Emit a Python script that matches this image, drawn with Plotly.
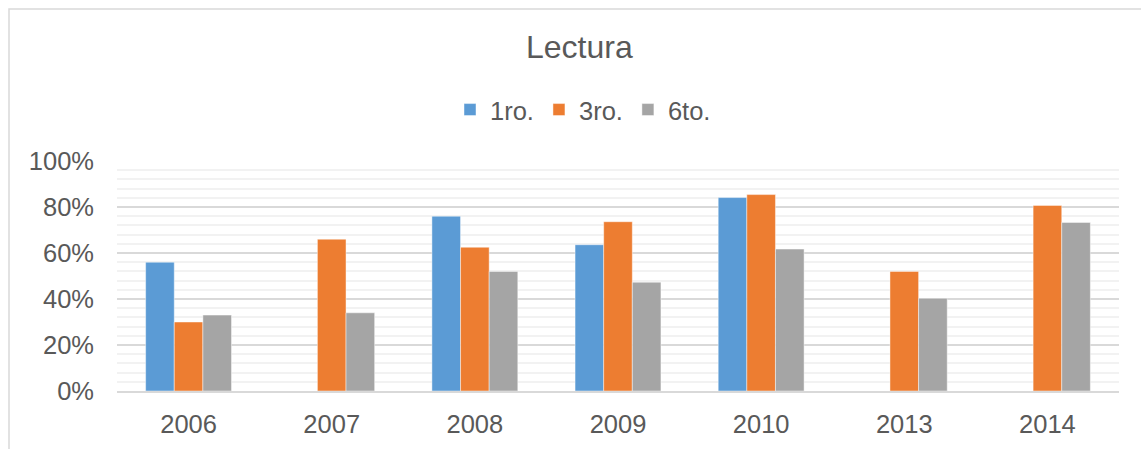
import plotly.graph_objects as go

years = ["2006", "2007", "2008", "2009", "2010", "2013", "2014"]
primero = [0.56, None, 0.76, 0.636, 0.841, None, None]
tercero = [0.30, 0.66, 0.625, 0.736, 0.854, 0.52, 0.807]
sexto = [0.33, 0.34, 0.52, 0.473, 0.617, 0.403, 0.733]
series_names = ["1ro.", "3ro.", "6to."]
colors = ["#5B9BD5", "#ED7D31", "#A5A5A5"]

W, H = 1141, 449
L, R, T, B = 117, 1119, 161, 391
pw, ph = R - L, B - T

def px_x(x):
    return (x - L) / pw

def px_y(y):
    return (B - y) / ph

fig = go.Figure()
for name, vals, col in zip(series_names, [primero, tercero, sexto], colors):
    fig.add_trace(go.Bar(
        x=years, y=vals, name=name,
        marker=dict(color=col, line=dict(color="rgba(255,255,255,0.6)", width=0.75)),
    ))

font_family = "Liberation Sans, Arial, sans-serif"
text_color = "#595959"

fig.update_layout(
    width=W, height=H,
    margin=dict(l=L, r=W - R, t=T, b=H - B, autoexpand=False),
    paper_bgcolor="white", plot_bgcolor="white",
    barmode="group", bargap=0.4, bargroupgap=0,
    font=dict(family=font_family, color=text_color, size=25.5),
    showlegend=True,
    legend=dict(
        orientation="h", xanchor="center", yanchor="middle",
        x=px_x(583), y=px_y(110),
        font=dict(size=25.5, color=text_color),
        itemwidth=30, tracegroupgap=0,
        bgcolor="rgba(0,0,0,0)",
    ),
    annotations=[dict(
        text="Lectura", xref="paper", yref="paper",
        x=px_x(579), y=px_y(47), xanchor="center", yanchor="middle",
        showarrow=False, font=dict(size=32, color=text_color, family=font_family),
    )],
    shapes=[dict(
        type="rect", xref="paper", yref="paper",
        x0=px_x(9), x1=px_x(1160), y0=px_y(470), y1=px_y(9),
        line=dict(color="#D9D9D9", width=1.5), fillcolor="rgba(0,0,0,0)", layer="below",
    )],
)

fig.update_yaxes(
    range=[0, 1.0], dtick=0.2, tick0=0, tickformat=".0%",
    showgrid=True, gridcolor="#D9D9D9", gridwidth=1.5,
    minor=dict(dtick=0.04, tick0=0, showgrid=True, gridcolor="#F2F2F2", gridwidth=1.5),
    zeroline=False, showline=False, ticks="",
    ticklabelstandoff=22,
    tickfont=dict(size=25.5, color=text_color),
)
fig.update_xaxes(
    type="category", showgrid=False, zeroline=False,
    showline=True, linecolor="#D9D9D9", linewidth=1.5, ticks="",
    ticklabelstandoff=10,
    tickfont=dict(size=25.5, color=text_color),
)

fig.write_html(
    "out.html",
    config={"displayModeBar": False},
    post_script="document.body.style.margin='0';document.body.style.overflow='hidden';",
)
